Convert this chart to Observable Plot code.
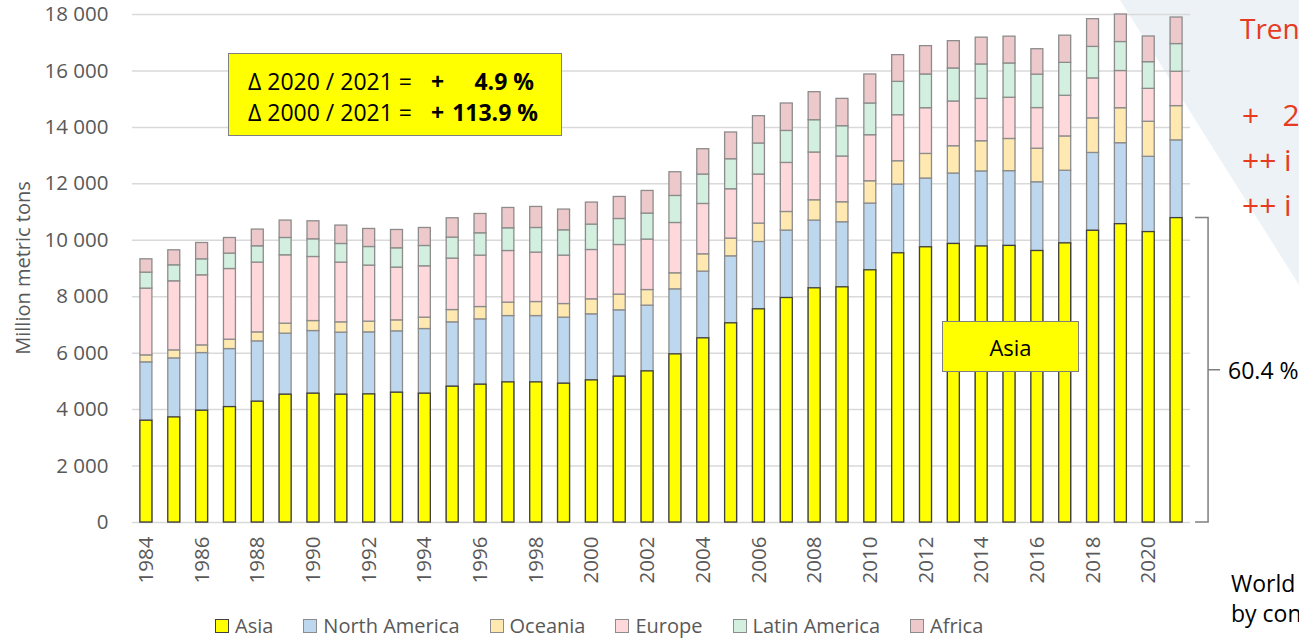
<!DOCTYPE html>
<html><head><meta charset="utf-8">
<script src="https://cdn.jsdelivr.net/npm/d3@7"></script>
<script src="https://cdn.jsdelivr.net/npm/@observablehq/plot@0.6"></script>
<style>
html,body{margin:0;padding:0}
body{width:1299px;height:638px;overflow:hidden;background:#fff;font-family:"Open Sans",sans-serif;position:relative}
#tri{position:absolute;left:0;top:0;width:1299px;height:638px;background:#EDF2F6;clip-path:polygon(1120px 0,1299px 0,1299px 285px);z-index:0}
#chart{position:absolute;left:0;top:0;z-index:1}
.ov{position:absolute;z-index:2;white-space:pre;line-height:30px;height:30px}
#delta{position:absolute;z-index:2;left:228px;top:53px;width:334px;height:83px;box-sizing:border-box;background:#FFFF00;border:1.5px solid #7f7f7f;font-size:23px;color:#000}
#delta span{position:absolute;white-space:pre;line-height:30px}
#asiabox{position:absolute;z-index:2;box-sizing:border-box;background:#FFFF00;border:1.5px solid #7f7f7f;font-size:22px;color:#000;display:flex;align-items:center;justify-content:center}
#legend{position:absolute;z-index:2;left:215px;top:611px;display:flex;gap:30px;font-size:20px;color:#595959;line-height:30px}
#legend .it{display:flex;align-items:center}
#legend .sw{width:12px;height:12px;border:1px solid #8c8c8c;margin-right:6px}
#ytitle{position:absolute;z-index:2;font-size:20px;color:#595959;white-space:nowrap;transform:translate(-50%,-50%) rotate(-90deg)}
.red{color:#E63B1F;font-size:30px}
.red.first{font-size:28px}
.blk{color:#000;font-size:23px}
</style></head><body>
<div id="tri"></div>
<div id="chart"></div>
<script>
const years = [1984,1985,1986,1987,1988,1989,1990,1991,1992,1993,1994,1995,1996,1997,1998,1999,2000,2001,2002,2003,2004,2005,2006,2007,2008,2009,2010,2011,2012,2013,2014,2015,2016,2017,2018,2019,2020,2021];
const regions = ["Asia","North America","Oceania","Europe","Latin America","Africa"];
const regionColors = ["#FFFF00","#BDD7EE","#FFE9B0","#FFD8DB","#D2EFDF","#EEC9CB"];
const asia = [3606,3723,3961,4089,4280,4528,4564,4528,4539,4599,4564,4812,4883,4964,4964,4918,5035,5167,5354,5957,6525,7057,7553,7954,8298,8333,8936,9539,9752,9869,9780,9800,9620,9890,10336,10570,10290,10785];
const northAmerica = [2068,2092,2043,2056,2138,2163,2220,2199,2198,2174,2291,2280,2315,2351,2351,2341,2341,2351,2330,2305,2365,2375,2387,2390,2400,2305,2365,2436,2436,2496,2660,2650,2435,2575,2759,2870,2668,2755];
const oceania = [248,284,272,333,319,355,354,365,380,390,404,436,437,476,497,482,532,556,553,568,613,628,652,659,720,709,791,826,872,968,1070,1140,1190,1215,1225,1240,1242,1214];
const europe = [2365,2447,2483,2504,2472,2422,2270,2117,1986,1869,1819,1823,1822,1829,1751,1716,1748,1759,1788,1783,1784,1748,1737,1738,1692,1621,1631,1631,1620,1585,1500,1460,1440,1440,1415,1317,1166,1218];
const latinAmerica = [567,567,567,546,578,614,627,660,659,684,720,744,791,805,873,897,900,922,922,958,1042,1064,1100,1134,1145,1074,1124,1181,1195,1170,1220,1215,1185,1168,1117,1028,945,981];
const africa = [472,532,578,553,592,616,638,652,639,649,638,685,684,720,745,734,780,780,801,840,898,947,968,972,993,968,1028,947,1004,968,950,950,900,962,982,975,910,940];
const yTicks = [0,2000,4000,6000,8000,10000,12000,14000,16000,18000];
const xTickYears = [1984,1986,1988,1990,1992,1994,1996,1998,2000,2002,2004,2006,2008,2010,2012,2014,2016,2018,2020];
const yLabel = "Million metric tons";
const deltaLines = [["Δ 2020 / 2021 =", "+", "4.9 %"], ["Δ 2000 / 2021 =", "+", "113.9 %"]];
const asiaShare = "60.4 %";
const redLines = ["Tren", "+   2", "++ i", "++ i"];
const sideNote = ["World", "by con"];

const series = [asia, northAmerica, oceania, europe, latinAmerica, africa];
const rows = [];
regions.forEach((r, k) => years.forEach((yr, i) => rows.push({year: yr, region: r, value: series[k][i]})));
const asiaRows = years.map((yr, i) => ({year: yr, value: asia[i]}));

const fmt = d3.formatLocale({decimal: ".", thousands: " ", grouping: [3], currency: ["", ""]}).format(",d");

const chart = Plot.plot({
  width: 1299, height: 605,
  marginLeft: 132, marginRight: 109, marginTop: 14, marginBottom: 83,
  style: {background: "transparent", fontFamily: "Open Sans", color: "#595959", overflow: "visible"},
  x: {type: "band", domain: years, paddingInner: 0.57, paddingOuter: 0.285},
  y: {domain: [0, 18000]},
  color: {domain: regions, range: regionColors},
  marks: [
    Plot.gridY(yTicks, {stroke: "#d9d9d9", strokeOpacity: 1, strokeWidth: 1.5}),
    Plot.axisY(yTicks, {tickSize: 0, tickPadding: 24, tickFormat: fmt, fontSize: 20.5, label: null}),
    Plot.axisX(xTickYears, {tickSize: 0, tickRotate: -90, tickPadding: 14, tickFormat: d => String(d), fontSize: 20.5, label: null}),
    Plot.barY(rows, Plot.stackY({x: "year", y: "value", fill: "region", order: regions, stroke: "#8c8c8c", strokeWidth: 1.3})),
    Plot.barY(asiaRows, {x: "year", y: "value", fill: regionColors[0], stroke: "#404040", strokeWidth: 1.3})
  ]
});
document.getElementById("chart").appendChild(chart);

const xs = chart.scale("x"), ys = chart.scale("y");
const body = document.body;
function el(tag, cls, txt, css) { const e = document.createElement(tag); if (cls) e.className = cls; if (txt != null) e.textContent = txt; Object.assign(e.style, css || {}); body.appendChild(e); return e; }

// y title
el("div", null, yLabel, {left: "22px", top: ys.apply(9000) + "px"}).id = "ytitle";

// delta box
const delta = el("div", null, null, {}); delta.id = "delta";
deltaLines.forEach((ln, i) => {
  const top = (12 + i * 31) + "px";
  const a = document.createElement("span"); a.textContent = ln[0]; Object.assign(a.style, {left: "19px", top}); delta.appendChild(a);
  const b = document.createElement("span"); b.textContent = ln[1]; Object.assign(b.style, {left: "202px", top, fontWeight: "bold"}); delta.appendChild(b);
  const c = document.createElement("span"); c.textContent = ln[2]; Object.assign(c.style, {right: (i === 0 ? 27 : 23) + "px", top, fontWeight: "bold"}); delta.appendChild(c);
});

// Asia box
const ab = el("div", null, regions[0], {left: "942px", top: "321px", width: "137px", height: "51px"}); ab.id = "asiabox";

// bracket
const svgNS = "http://www.w3.org/2000/svg";
const ov = document.createElementNS(svgNS, "svg");
ov.setAttribute("width", 1299); ov.setAttribute("height", 638);
Object.assign(ov.style, {position: "absolute", left: 0, top: 0, zIndex: 2, pointerEvents: "none"});
const last = years.length - 1;
const bx = xs.apply(years[last]) + xs.bandwidth + 26;
const yTop = ys.apply(asia[last]), yBot = ys.apply(0), yMid = ys.apply(asia[last] / 2);
const path = document.createElementNS(svgNS, "path");
path.setAttribute("d", `M${bx - 13},${yTop}H${bx}V${yBot}H${bx - 13}M${bx},${yMid}H${bx + 12}`);
path.setAttribute("fill", "none"); path.setAttribute("stroke", "#7f7f7f"); path.setAttribute("stroke-width", 1.5);
ov.appendChild(path);
body.appendChild(ov);
el("div", "ov blk", asiaShare, {left: (bx + 20) + "px", top: (yMid - 15) + "px"});

// right side texts
const redY = [28, 115, 160, 205];
redLines.forEach((t, i) => el("div", i === 0 ? "ov red first" : "ov red", t, {left: (i === 0 ? 1240 : 1242) + "px", top: (redY[i] - 15) + "px"}));
sideNote.forEach((t, i) => el("div", "ov blk", t, {left: "1231px", top: (583 + i * 30 - 15) + "px"}));

// legend
const lg = el("div", null, null, {}); lg.id = "legend";
regions.forEach((r, i) => {
  const it = document.createElement("div"); it.className = "it";
  const sw = document.createElement("div"); sw.className = "sw"; sw.style.background = regionColors[i];
  if (i === 0) sw.style.borderColor = "#404040";
  const tx = document.createElement("span"); tx.textContent = r;
  it.appendChild(sw); it.appendChild(tx); lg.appendChild(it);
});
</script>
</body></html>
